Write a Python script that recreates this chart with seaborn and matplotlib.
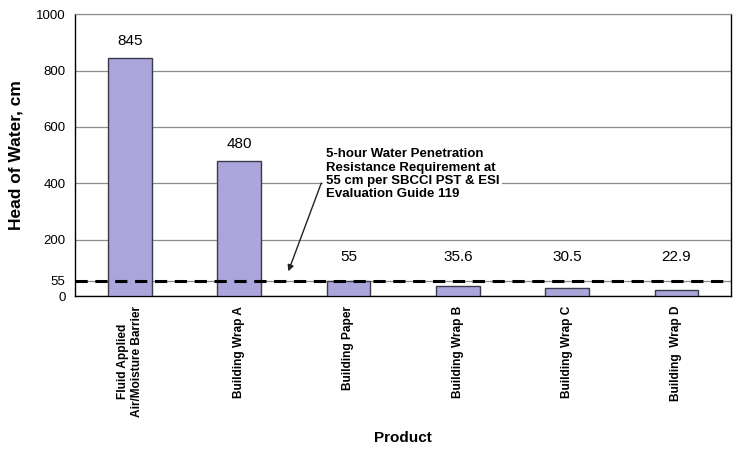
import numpy as np
import pandas as pd
import seaborn as sns
import matplotlib.pyplot as plt
from matplotlib.ticker import FixedLocator

# Data
products = ['Fluid Applied\nAir/Moisture Barrier', 'Building Wrap A', 'Building Paper',
            'Building Wrap B', 'Building Wrap C', 'Building  Wrap D']
head_of_water = [845, 480, 55, 35.6, 30.5, 22.9]
value_labels = ['845', '480', '55', '35.6', '30.5', '22.9']
requirement = 55
y_ticks = [0, 55, 200, 400, 600, 800, 1000]

df = pd.DataFrame({'product': products, 'head': head_of_water})

sns.set_style('white')
plt.rcParams['font.family'] = ['Liberation Sans', 'DejaVu Sans']
plt.rcParams['text.color'] = 'black'
plt.rcParams['axes.labelcolor'] = 'black'
plt.rcParams['xtick.color'] = 'black'
plt.rcParams['ytick.color'] = 'black'

fig, ax = plt.subplots(figsize=(7.37, 4.57), dpi=100)
fig.subplots_adjust(left=0.102, right=0.992, top=0.969, bottom=0.352)

sns.barplot(data=df, x='product', y='head', color='#aaa5db', width=0.4,
            edgecolor='#3a3a4a', linewidth=1.0, saturation=1, ax=ax, zorder=3)

# value labels above the bars
for i, (v, lab) in enumerate(zip(head_of_water, value_labels)):
    ax.text(i, max(v, 80) + 60, lab, ha='center', va='center', fontsize=11, zorder=5)

# requirement line
ax.axhline(requirement, color='black', linestyle=(0, (4, 2.5)), linewidth=2.2, zorder=4)

ax.set_ylim(0, 1000)
ax.set_xlim(-0.5, len(products) - 0.5)
ax.set_yticks(y_ticks)
ax.set_yticklabels([str(t) for t in y_ticks], fontsize=9.5)
ax.yaxis.grid(True, color='#8c8c8c', linewidth=0.9, zorder=0)
ax.set_axisbelow(True)

ax.set_xticks(range(len(products)))
ax.set_xticklabels(products, rotation=90, fontsize=8.6, fontweight='bold',
                   va='top', ha='center', multialignment='center')
ax.tick_params(axis='x', length=0, pad=7)
ax.xaxis.set_minor_locator(FixedLocator(np.arange(0.5, len(products) - 0.5, 1)))
ax.tick_params(axis='x', which='minor', length=4, color='#555555', direction='out')
ax.tick_params(axis='y', length=3, width=0.8, color='#555555', direction='out', pad=4)

for side in ['left', 'bottom', 'right']:
    ax.spines[side].set_color('black')
    ax.spines[side].set_linewidth(1.0)
ax.spines['top'].set_color('#8c8c8c')

ax.set_ylabel('Head of Water, cm', fontsize=12.5, fontweight='bold', labelpad=9)
ax.set_xlabel('Product', fontsize=11, fontweight='bold', labelpad=10)

ax.annotate('5-hour Water Penetration\nResistance Requirement at\n55 cm per SBCCI PST & ESI\nEvaluation Guide 119',
            xy=(1.45, 88), xytext=(1.79, 432), fontsize=9.5, fontweight='bold',
            ha='left', va='center', linespacing=1.15, zorder=6,
            bbox=dict(facecolor='white', edgecolor='none', pad=2),
            arrowprops=dict(arrowstyle='-|>', color='#222222', lw=1.0,
                            shrinkA=3, shrinkB=0, mutation_scale=9,
                            relpos=(0, 0.55)))

fig.savefig('out.png', dpi=100)
